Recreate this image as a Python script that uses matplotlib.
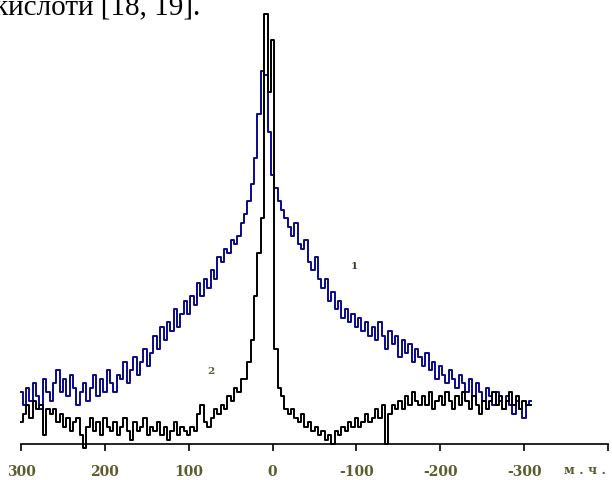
import numpy as np
import matplotlib
matplotlib.use("Agg")
import matplotlib.pyplot as plt

# chemical shift grid, ppm (4 ppm step from 300 down to -308)
shift = np.arange(300, -309, -4)

# curve 1 (blue)
curve_1 = [
    12, 9, 13, 10, 14, 11, 8, 15, 12, 10,
    14, 17, 12, 15, 11, 16, 13, 9, 12, 14,
    10, 13, 16, 11, 15, 12, 17, 14, 12, 16,
    15, 19, 14, 17, 20, 16, 19, 22, 18, 21,
    25, 22, 27, 24, 28, 26, 31, 27, 30, 33,
    30, 34, 32, 37, 34, 38, 36, 40, 38, 43,
    42, 45, 44, 47, 46, 48, 51, 53, 56, 60,
    66, 76, 86, 85, 72, 62, 59, 56, 54, 52,
    50, 48, 51, 46, 45, 47, 42, 40, 43, 38,
    36, 38, 33, 35, 31, 33, 29, 31, 28, 30,
    27, 29, 26, 28, 25, 27, 24, 28, 25, 22,
    26, 23, 25, 20, 24, 21, 23, 19, 22, 20,
    18, 21, 17, 19, 15, 18, 16, 14, 17, 15,
    13, 16, 14, 12, 15, 11, 14, 12, 10, 13,
    11, 9, 12, 10, 8, 11, 9, 7, 10, 8,
    6, 9, 10,
]

# curve 2 (black)
curve_2 = [
    5, 7, 9, 6, 10, 8, 9, 2, 8, 7,
    8, 5, 7, 4, 6, 3, 5, 6, 2, -1,
    4, 6, 3, 5, 2, 6, 4, 3, 5, 2,
    4, 6, 3, 1, 5, 3, 4, 6, 2, 4,
    3, 5, 2, 4, 1, 3, 5, 2, 4, 3,
    2, 4, 3, 7, 9, 5, 4, 6, 8, 7,
    9, 8, 11, 10, 13, 12, 15, 15, 19, 24,
    34, 44, 52, 99, 81, 93, 22, 13, 11, 8,
    7, 8, 6, 5, 7, 4, 5, 3, 4, 2,
    3, 1, 2, 0, 3, 2, 4, 3, 5, 4,
    6, 4, 5, 7, 5, 6, 8, 6, 9, 0,
    7, 9, 8, 10, 8, 11, 9, 12, 10, 9,
    11, 9, 12, 8, 10, 11, 9, 12, 10, 8,
    11, 9, 12, 10, 8, 11, 9, 7, 10, 8,
    10, 12, 9, 11, 8, 10, 12, 9, 11, 8,
    10, 9, 9,
]

tick_pos = [300, 200, 100, 0, -100, -200, -300, -400]
tick_txt = ["300", "200", "100", "0", "-100", "-200", "-300", ""]

label_col = "#5c5c2e"

fig = plt.figure(figsize=(6.12, 4.80), dpi=100)
fig.patch.set_facecolor("white")

# line of page text above the figure, cut by the scan's top edge
fig.text(-6 / 612, 1 - 14 / 480, "кислоти [18, 19].", fontsize=21,
         family="Liberation Serif", va="baseline", ha="left")

ax = fig.add_axes([21 / 612, 36 / 480, 587 / 612, 434 / 480])
ax.set_xlim(300, -400)
ax.set_ylim(0, 100)

ax.plot(shift, curve_1, color="#0a0a8c", lw=1.4, drawstyle="steps-mid",
        clip_on=False, zorder=2)
ax.plot(shift, curve_2, color="black", lw=1.4, drawstyle="steps-mid",
        clip_on=False, zorder=3)

for s in ["top", "left", "right"]:
    ax.spines[s].set_visible(False)
ax.spines["bottom"].set_linewidth(1.2)
ax.set_yticks([])
ax.set_xticks(tick_pos)
ax.set_xticklabels(tick_txt, family="DejaVu Serif", fontweight="bold",
                   fontsize=10, color=label_col)
ax.tick_params(axis="x", direction="out", length=5, width=1.2, pad=10)

ax.text(-372, -0.062, "м . ч .", transform=ax.get_xaxis_transform(),
        family="DejaVu Serif", fontweight="bold", fontsize=9,
        color=label_col, ha="center", va="center")

ax.text(-98, 41, "1", family="DejaVu Serif", fontweight="bold", fontsize=7.5,
        color="#3a3a1e", ha="center", va="center")
ax.text(73, 16.6, "2", family="DejaVu Serif", fontweight="bold", fontsize=7.5,
        color="#5c5c2e", ha="center", va="center")

fig.savefig("out.png", dpi=100)
